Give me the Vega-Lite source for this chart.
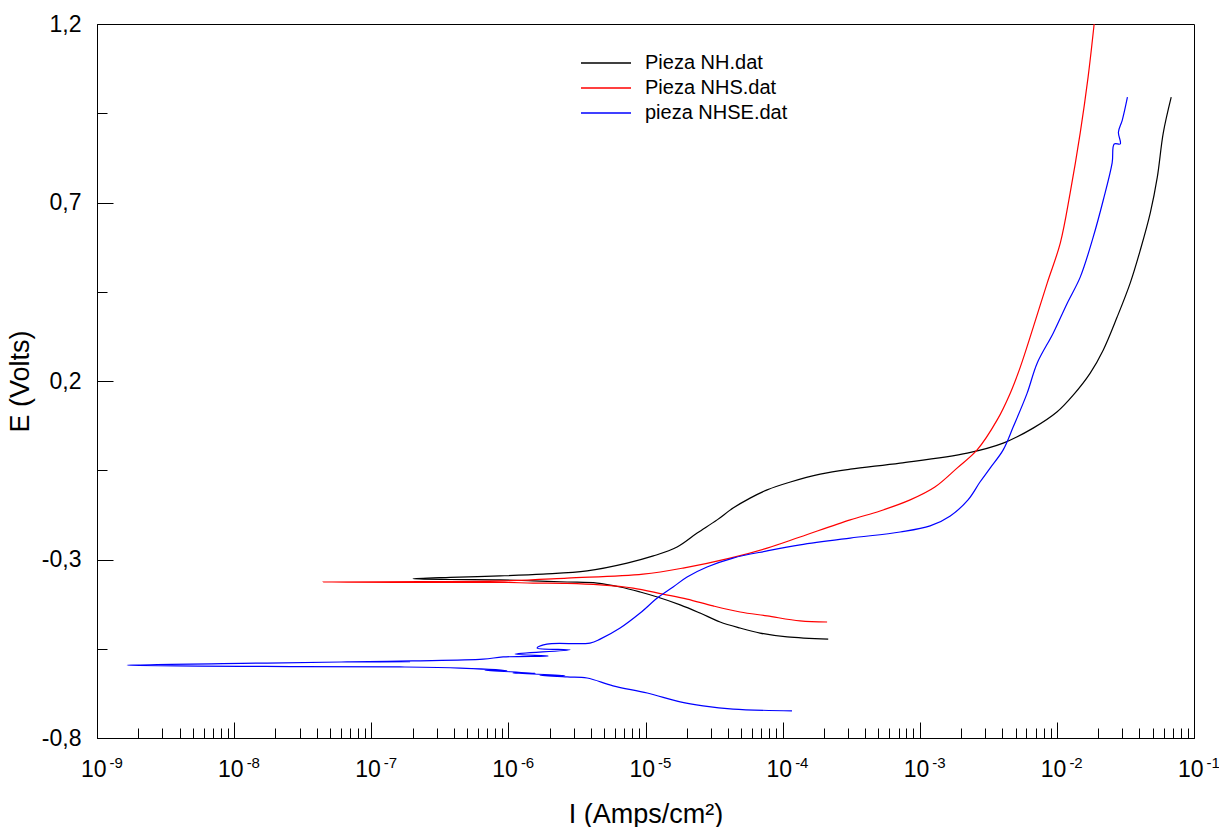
{
  "$schema": "https://vega.github.io/schema/vega-lite/v6.json",
  "width": 1097,
  "height": 714,
  "autosize": {"type": "none"},
  "padding": {"left": 97, "top": 24, "right": 25, "bottom": 89},
  "background": "white",
  "config": {
    "view": {"stroke": "black", "strokeWidth": 1},
    "font": "Liberation Sans",
    "axis": {
      "labelFont": "Liberation Sans",
      "titleFont": "Liberation Sans",
      "labelColor": "black",
      "titleColor": "black",
      "domainColor": "black",
      "tickColor": "black",
      "domainWidth": 1,
      "tickWidth": 1,
      "grid": false,
      "titleFontWeight": "normal",
      "labelOverlap": false,
      "labelFlush": false,
      "labelBound": false
    },
    "legend": {"labelFont": "Liberation Sans"}
  },
  "datasets": {
    "curves": [
      {"s": "Pieza NH.dat", "o": 1, "I": 2.15e-4, "E": -0.523},
      {"s": "Pieza NH.dat", "o": 2, "I": 1.08e-4, "E": -0.517},
      {"s": "Pieza NH.dat", "o": 3, "I": 6.85e-5, "E": -0.506},
      {"s": "Pieza NH.dat", "o": 4, "I": 4.90e-5, "E": -0.492},
      {"s": "Pieza NH.dat", "o": 5, "I": 3.50e-5, "E": -0.475},
      {"s": "Pieza NH.dat", "o": 6, "I": 2.50e-5, "E": -0.450},
      {"s": "Pieza NH.dat", "o": 7, "I": 1.79e-5, "E": -0.427},
      {"s": "Pieza NH.dat", "o": 8, "I": 1.22e-5, "E": -0.405},
      {"s": "Pieza NH.dat", "o": 9, "I": 9.14e-6, "E": -0.391},
      {"s": "Pieza NH.dat", "o": 10, "I": 6.53e-6, "E": -0.377},
      {"s": "Pieza NH.dat", "o": 11, "I": 4.44e-6, "E": -0.366},
      {"s": "Pieza NH.dat", "o": 12, "I": 2.68e-6, "E": -0.363},
      {"s": "Pieza NH.dat", "o": 13, "I": 1.51e-6, "E": -0.360},
      {"s": "Pieza NH.dat", "o": 14, "I": 8.70e-7, "E": -0.357},
      {"s": "Pieza NH.dat", "o": 15, "I": 3.76e-7, "E": -0.356},
      {"s": "Pieza NH.dat", "o": 16, "I": 2.02e-7, "E": -0.354},
      {"s": "Pieza NH.dat", "o": 17, "I": 3.76e-7, "E": -0.350},
      {"s": "Pieza NH.dat", "o": 18, "I": 8.70e-7, "E": -0.346},
      {"s": "Pieza NH.dat", "o": 19, "I": 1.79e-6, "E": -0.341},
      {"s": "Pieza NH.dat", "o": 20, "I": 3.75e-6, "E": -0.332},
      {"s": "Pieza NH.dat", "o": 21, "I": 7.34e-6, "E": -0.310},
      {"s": "Pieza NH.dat", "o": 22, "I": 1.14e-5, "E": -0.290},
      {"s": "Pieza NH.dat", "o": 23, "I": 1.70e-5, "E": -0.265},
      {"s": "Pieza NH.dat", "o": 24, "I": 2.38e-5, "E": -0.226},
      {"s": "Pieza NH.dat", "o": 25, "I": 3.33e-5, "E": -0.189},
      {"s": "Pieza NH.dat", "o": 26, "I": 4.35e-5, "E": -0.156},
      {"s": "Pieza NH.dat", "o": 27, "I": 5.79e-5, "E": -0.128},
      {"s": "Pieza NH.dat", "o": 28, "I": 7.71e-5, "E": -0.105},
      {"s": "Pieza NH.dat", "o": 29, "I": 1.14e-4, "E": -0.083},
      {"s": "Pieza NH.dat", "o": 30, "I": 1.88e-4, "E": -0.061},
      {"s": "Pieza NH.dat", "o": 31, "I": 3.11e-4, "E": -0.047},
      {"s": "Pieza NH.dat", "o": 32, "I": 7.19e-4, "E": -0.030},
      {"s": "Pieza NH.dat", "o": 33, "I": 2.22e-3, "E": -0.002},
      {"s": "Pieza NH.dat", "o": 34, "I": 4.06e-3, "E": 0.026},
      {"s": "Pieza NH.dat", "o": 35, "I": 6.71e-3, "E": 0.068},
      {"s": "Pieza NH.dat", "o": 36, "I": 1.00e-2, "E": 0.113},
      {"s": "Pieza NH.dat", "o": 37, "I": 1.32e-2, "E": 0.161},
      {"s": "Pieza NH.dat", "o": 38, "I": 1.75e-2, "E": 0.222},
      {"s": "Pieza NH.dat", "o": 39, "I": 2.18e-2, "E": 0.287},
      {"s": "Pieza NH.dat", "o": 40, "I": 2.75e-2, "E": 0.379},
      {"s": "Pieza NH.dat", "o": 41, "I": 3.43e-2, "E": 0.475},
      {"s": "Pieza NH.dat", "o": 42, "I": 4.06e-2, "E": 0.567},
      {"s": "Pieza NH.dat", "o": 43, "I": 4.80e-2, "E": 0.671},
      {"s": "Pieza NH.dat", "o": 44, "I": 5.40e-2, "E": 0.771},
      {"s": "Pieza NH.dat", "o": 45, "I": 5.97e-2, "E": 0.895},
      {"s": "Pieza NH.dat", "o": 46, "I": 6.82e-2, "E": 0.995},

      {"s": "Pieza NHS.dat", "o": 1, "I": 2.11e-4, "E": -0.475},
      {"s": "Pieza NHS.dat", "o": 2, "I": 1.34e-4, "E": -0.472},
      {"s": "Pieza NHS.dat", "o": 3, "I": 7.71e-5, "E": -0.458},
      {"s": "Pieza NHS.dat", "o": 4, "I": 4.90e-5, "E": -0.447},
      {"s": "Pieza NHS.dat", "o": 5, "I": 3.11e-5, "E": -0.430},
      {"s": "Pieza NHS.dat", "o": 6, "I": 2.01e-5, "E": -0.411},
      {"s": "Pieza NHS.dat", "o": 7, "I": 1.34e-5, "E": -0.397},
      {"s": "Pieza NHS.dat", "o": 8, "I": 8.12e-6, "E": -0.380},
      {"s": "Pieza NHS.dat", "o": 9, "I": 4.67e-6, "E": -0.371},
      {"s": "Pieza NHS.dat", "o": 10, "I": 2.68e-6, "E": -0.367},
      {"s": "Pieza NHS.dat", "o": 11, "I": 1.51e-6, "E": -0.366},
      {"s": "Pieza NHS.dat", "o": 12, "I": 8.70e-7, "E": -0.364},
      {"s": "Pieza NHS.dat", "o": 13, "I": 2.27e-7, "E": -0.364},
      {"s": "Pieza NHS.dat", "o": 14, "I": 4.45e-8, "E": -0.363},
      {"s": "Pieza NHS.dat", "o": 15, "I": 2.27e-7, "E": -0.362},
      {"s": "Pieza NHS.dat", "o": 16, "I": 8.70e-7, "E": -0.360},
      {"s": "Pieza NHS.dat", "o": 17, "I": 2.68e-6, "E": -0.352},
      {"s": "Pieza NHS.dat", "o": 18, "I": 9.60e-6, "E": -0.341},
      {"s": "Pieza NHS.dat", "o": 19, "I": 1.88e-5, "E": -0.324},
      {"s": "Pieza NHS.dat", "o": 20, "I": 4.14e-5, "E": -0.296},
      {"s": "Pieza NHS.dat", "o": 21, "I": 7.71e-5, "E": -0.268},
      {"s": "Pieza NHS.dat", "o": 22, "I": 1.34e-4, "E": -0.237},
      {"s": "Pieza NHS.dat", "o": 23, "I": 3.11e-4, "E": -0.189},
      {"s": "Pieza NHS.dat", "o": 24, "I": 5.14e-4, "E": -0.164},
      {"s": "Pieza NHS.dat", "o": 25, "I": 8.51e-4, "E": -0.133},
      {"s": "Pieza NHS.dat", "o": 26, "I": 1.29e-3, "E": -0.097},
      {"s": "Pieza NHS.dat", "o": 27, "I": 1.87e-3, "E": -0.044},
      {"s": "Pieza NHS.dat", "o": 28, "I": 2.62e-3, "E": 0.007},
      {"s": "Pieza NHS.dat", "o": 29, "I": 3.67e-3, "E": 0.091},
      {"s": "Pieza NHS.dat", "o": 30, "I": 4.57e-3, "E": 0.166},
      {"s": "Pieza NHS.dat", "o": 31, "I": 5.41e-3, "E": 0.239},
      {"s": "Pieza NHS.dat", "o": 32, "I": 6.73e-3, "E": 0.351},
      {"s": "Pieza NHS.dat", "o": 33, "I": 8.51e-3, "E": 0.475},
      {"s": "Pieza NHS.dat", "o": 34, "I": 1.06e-2, "E": 0.587},
      {"s": "Pieza NHS.dat", "o": 35, "I": 1.25e-2, "E": 0.727},
      {"s": "Pieza NHS.dat", "o": 36, "I": 1.48e-2, "E": 0.895},
      {"s": "Pieza NHS.dat", "o": 37, "I": 1.69e-2, "E": 1.052},
      {"s": "Pieza NHS.dat", "o": 38, "I": 1.87e-2, "E": 1.2},

      {"s": "pieza NHSE.dat", "o": 1, "I": 1.17e-4, "E": -0.724},
      {"s": "pieza NHSE.dat", "o": 2, "I": 4.35e-5, "E": -0.719},
      {"s": "pieza NHSE.dat", "o": 3, "I": 2.63e-5, "E": -0.710},
      {"s": "pieza NHSE.dat", "o": 4, "I": 1.79e-5, "E": -0.699},
      {"s": "pieza NHSE.dat", "o": 5, "I": 1.03e-5, "E": -0.674},
      {"s": "pieza NHSE.dat", "o": 6, "I": 5.80e-6, "E": -0.654},
      {"s": "pieza NHSE.dat", "o": 7, "I": 3.75e-6, "E": -0.632},
      {"s": "pieza NHSE.dat", "o": 8, "I": 2.68e-6, "E": -0.629},
      {"s": "pieza NHSE.dat", "o": 9, "I": 1.70e-6, "E": -0.624},
      {"s": "pieza NHSE.dat", "o": 10, "I": 2.59e-6, "E": -0.625},
      {"s": "pieza NHSE.dat", "o": 11, "I": 1.08e-6, "E": -0.618},
      {"s": "pieza NHSE.dat", "o": 12, "I": 1.57e-6, "E": -0.619},
      {"s": "pieza NHSE.dat", "o": 13, "I": 6.76e-7, "E": -0.610},
      {"s": "pieza NHSE.dat", "o": 14, "I": 9.77e-7, "E": -0.611},
      {"s": "pieza NHSE.dat", "o": 15, "I": 4.45e-7, "E": -0.604},
      {"s": "pieza NHSE.dat", "o": 16, "I": 1.62e-7, "E": -0.601},
      {"s": "pieza NHSE.dat", "o": 17, "I": 3.03e-8, "E": -0.600},
      {"s": "pieza NHSE.dat", "o": 18, "I": 1.66e-9, "E": -0.596},
      {"s": "pieza NHSE.dat", "o": 19, "I": 1.74e-8, "E": -0.590},
      {"s": "pieza NHSE.dat", "o": 20, "I": 6.67e-8, "E": -0.587},
      {"s": "pieza NHSE.dat", "o": 21, "I": 1.92e-7, "E": -0.586},
      {"s": "pieza NHSE.dat", "o": 22, "I": 7.0e-8, "E": -0.587},
      {"s": "pieza NHSE.dat", "o": 23, "I": 1.99e-7, "E": -0.584},
      {"s": "pieza NHSE.dat", "o": 24, "I": 6.55e-7, "E": -0.579},
      {"s": "pieza NHSE.dat", "o": 25, "I": 9.16e-7, "E": -0.573},
      {"s": "pieza NHSE.dat", "o": 26, "I": 1.95e-6, "E": -0.570},
      {"s": "pieza NHSE.dat", "o": 27, "I": 1.12e-6, "E": -0.565},
      {"s": "pieza NHSE.dat", "o": 28, "I": 2.82e-6, "E": -0.553},
      {"s": "pieza NHSE.dat", "o": 29, "I": 1.62e-6, "E": -0.548},
      {"s": "pieza NHSE.dat", "o": 30, "I": 1.91e-6, "E": -0.537},
      {"s": "pieza NHSE.dat", "o": 31, "I": 3.94e-6, "E": -0.534},
      {"s": "pieza NHSE.dat", "o": 32, "I": 4.67e-6, "E": -0.523},
      {"s": "pieza NHSE.dat", "o": 33, "I": 6.53e-6, "E": -0.492},
      {"s": "pieza NHSE.dat", "o": 34, "I": 9.14e-6, "E": -0.450},
      {"s": "pieza NHSE.dat", "o": 35, "I": 1.22e-5, "E": -0.408},
      {"s": "pieza NHSE.dat", "o": 36, "I": 1.59e-5, "E": -0.377},
      {"s": "pieza NHSE.dat", "o": 37, "I": 2.01e-5, "E": -0.349},
      {"s": "pieza NHSE.dat", "o": 38, "I": 2.81e-5, "E": -0.321},
      {"s": "pieza NHSE.dat", "o": 39, "I": 4.35e-5, "E": -0.296},
      {"s": "pieza NHSE.dat", "o": 40, "I": 7.71e-5, "E": -0.276},
      {"s": "pieza NHSE.dat", "o": 41, "I": 1.34e-4, "E": -0.259},
      {"s": "pieza NHSE.dat", "o": 42, "I": 3.11e-4, "E": -0.240},
      {"s": "pieza NHSE.dat", "o": 43, "I": 7.19e-4, "E": -0.223},
      {"s": "pieza NHSE.dat", "o": 44, "I": 1.19e-3, "E": -0.206},
      {"s": "pieza NHSE.dat", "o": 45, "I": 1.67e-3, "E": -0.178},
      {"s": "pieza NHSE.dat", "o": 46, "I": 2.25e-3, "E": -0.133},
      {"s": "pieza NHSE.dat", "o": 47, "I": 2.75e-3, "E": -0.083},
      {"s": "pieza NHSE.dat", "o": 48, "I": 3.26e-3, "E": -0.044},
      {"s": "pieza NHSE.dat", "o": 49, "I": 4.06e-3, "E": 0.007},
      {"s": "pieza NHSE.dat", "o": 50, "I": 4.80e-3, "E": 0.071},
      {"s": "pieza NHSE.dat", "o": 51, "I": 6.07e-3, "E": 0.166},
      {"s": "pieza NHSE.dat", "o": 52, "I": 7.18e-3, "E": 0.250},
      {"s": "pieza NHSE.dat", "o": 53, "I": 9.40e-3, "E": 0.334},
      {"s": "pieza NHSE.dat", "o": 54, "I": 1.19e-2, "E": 0.418},
      {"s": "pieza NHSE.dat", "o": 55, "I": 1.48e-2, "E": 0.491},
      {"s": "pieza NHSE.dat", "o": 56, "I": 1.84e-2, "E": 0.603},
      {"s": "pieza NHSE.dat", "o": 57, "I": 2.18e-2, "E": 0.707},
      {"s": "pieza NHSE.dat", "o": 58, "I": 2.53e-2, "E": 0.811},
      {"s": "pieza NHSE.dat", "o": 59, "I": 2.62e-2, "E": 0.864},
      {"s": "pieza NHSE.dat", "o": 60, "I": 2.90e-2, "E": 0.864},
      {"s": "pieza NHSE.dat", "o": 61, "I": 2.81e-2, "E": 0.897},
      {"s": "pieza NHSE.dat", "o": 62, "I": 3.00e-2, "E": 0.931},
      {"s": "pieza NHSE.dat", "o": 63, "I": 3.27e-2, "E": 0.995}
    ]
  },
  "layer": [
    {
      "mark": {"type": "rule", "color": "#3a3a3a", "strokeWidth": 1.5},
      "encoding": {
        "x": {
          "datum": 1e-9,
          "type": "quantitative",
          "scale": {"type": "log", "domain": [1e-9, 0.1], "nice": false},
          "axis": {
            "orient": "bottom",
            "values": [1e-9, 1e-8, 1e-7, 1e-6, 1e-5, 1e-4, 1e-3, 1e-2, 1e-1],
            "labelExpr": "'-' + (-round(log(datum.value)/LN10))",
            "ticks": false,
            "domain": false,
            "title": null,
            "labelFontSize": 15,
            "labelAlign": "left",
            "labelOffset": 12,
            "labelPadding": 17
          }
        },
        "x2": {"datum": 0.1},
        "y": {"datum": 0, "type": "quantitative", "axis": null}
      }
    },
    {
      "data": {"name": "curves"},
      "mark": {"type": "line", "strokeWidth": 1.2, "clip": true, "interpolate": "catmull-rom"},
      "encoding": {
        "x": {
          "field": "I",
          "type": "quantitative",
          "scale": {"type": "log", "domain": [1e-9, 0.1], "nice": false},
          "axis": {
            "orient": "bottom",
            "title": "I (Amps/cm²)",
            "titleFontSize": 27,
            "titlePadding": 14,
            "values": [1e-9, 2e-9, 3e-9, 4e-9, 5e-9, 6e-9, 7e-9, 8e-9, 9e-9,
                       1e-8, 2e-8, 3e-8, 4e-8, 5e-8, 6e-8, 7e-8, 8e-8, 9e-8,
                       1e-7, 2e-7, 3e-7, 4e-7, 5e-7, 6e-7, 7e-7, 8e-7, 9e-7,
                       1e-6, 2e-6, 3e-6, 4e-6, 5e-6, 6e-6, 7e-6, 8e-6, 9e-6,
                       1e-5, 2e-5, 3e-5, 4e-5, 5e-5, 6e-5, 7e-5, 8e-5, 9e-5,
                       1e-4, 2e-4, 3e-4, 4e-4, 5e-4, 6e-4, 7e-4, 8e-4, 9e-4,
                       1e-3, 2e-3, 3e-3, 4e-3, 5e-3, 6e-3, 7e-3, 8e-3, 9e-3,
                       1e-2, 2e-2, 3e-2, 4e-2, 5e-2, 6e-2, 7e-2, 8e-2, 9e-2, 1e-1],
            "labelExpr": "abs(log(datum.value)/LN10 - round(log(datum.value)/LN10)) < 0.001 ? '10' : ''",
            "labelFontSize": 23,
            "labelAlign": "right",
            "labelOffset": 9,
            "labelPadding": 36,
            "tickSize": {"condition": {"test": "abs(log(datum.value)/LN10 - round(log(datum.value)/LN10)) < 0.001", "value": -16}, "value": -10}
          }
        },
        "y": {
          "field": "E",
          "type": "quantitative",
          "scale": {"domain": [-0.8, 1.2], "nice": false, "zero": false},
          "axis": {
            "orient": "left",
            "title": "E (Volts)",
            "titleFontSize": 27,
            "titlePadding": 7,
            "values": [-0.8, -0.55, -0.3, -0.05, 0.2, 0.45, 0.7, 0.95, 1.2],
            "labelExpr": "abs((datum.value + 0.8)/0.5 - round((datum.value + 0.8)/0.5)) < 0.01 ? replace(replace(format(datum.value, '.1f'), '.', ','), '\u2212', '-') : ''",
            "labelFontSize": 23,
            "labelPadding": 32,
            "tickSize": {"condition": {"test": "abs((datum.value + 0.8)/0.5 - round((datum.value + 0.8)/0.5)) < 0.01", "value": -16}, "value": -10}
          }
        },
        "color": {
          "field": "s",
          "type": "nominal",
          "scale": {"domain": ["Pieza NH.dat", "Pieza NHS.dat", "pieza NHSE.dat"], "range": ["#000000", "#ff0000", "#0000ff"]},
          "legend": {
            "title": null,
            "orient": "none",
            "legendX": 474,
            "legendY": 29,
            "padding": 0,
            "symbolType": "M0,0H10",
            "symbolSize": 100,
            "symbolStrokeWidth": 1.3,
            "labelOffset": 54,
            "labelFontSize": 20,
            "labelColor": "black",
            "rowPadding": 5
          }
        },
        "order": {"field": "o", "type": "quantitative"}
      }
    }
  ],
  "resolve": {"axis": {"x": "independent", "y": "independent"}}
}
